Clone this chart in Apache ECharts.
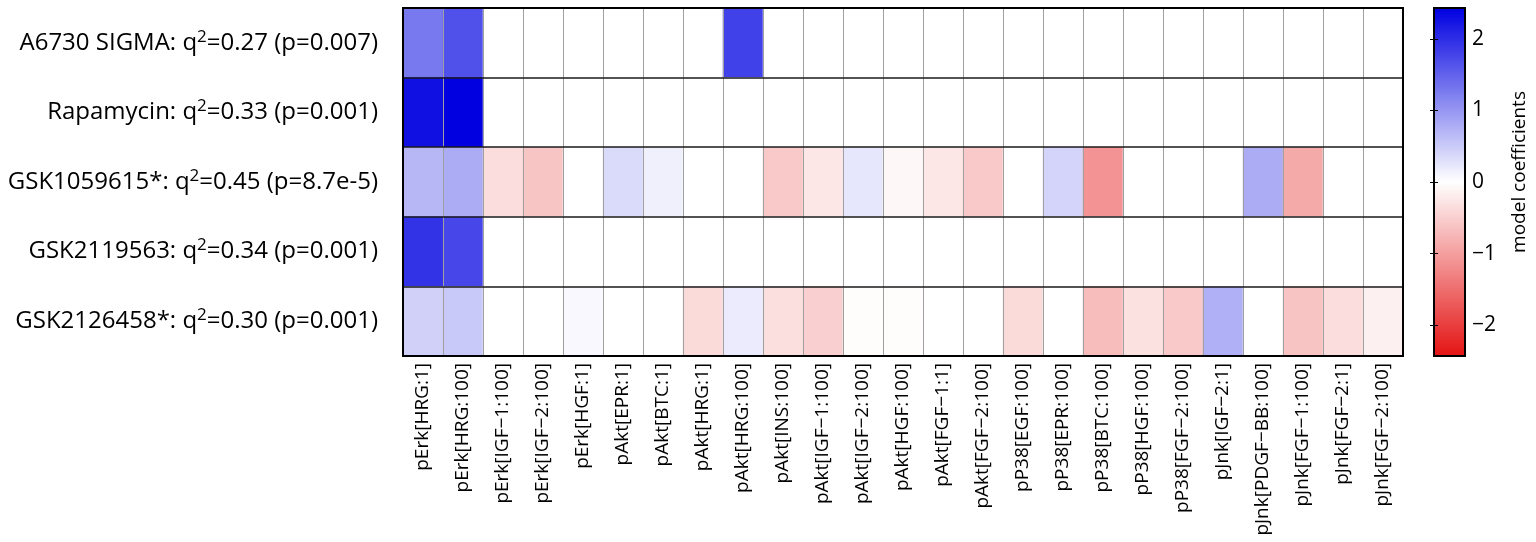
<!DOCTYPE html>
<html>
<head>
<meta charset="utf-8">
<script src="https://cdn.jsdelivr.net/npm/echarts@6/dist/echarts.min.js"></script>
<style>
html,body{margin:0;padding:0;background:#fff;}
#chart{width:1536px;height:542px;}
</style>
</head>
<body>
<div id="chart"></div>
<script>
const drugs = ['A6730 SIGMA', 'Rapamycin', 'GSK1059615*', 'GSK2119563', 'GSK2126458*'];
const q2 = ['0.27', '0.33', '0.45', '0.34', '0.30'];
const pvals = ['0.007', '0.001', '8.7e-5', '0.001', '0.001'];
const features = ['pErk[HRG:1]', 'pErk[HRG:100]', 'pErk[IGF\u22121:100]', 'pErk[IGF\u22122:100]', 'pErk[HGF:1]',
  'pAkt[EPR:1]', 'pAkt[BTC:1]', 'pAkt[HRG:1]', 'pAkt[HRG:100]', 'pAkt[INS:100]', 'pAkt[IGF\u22121:100]',
  'pAkt[IGF\u22122:100]', 'pAkt[HGF:100]', 'pAkt[FGF\u22121:1]', 'pAkt[FGF\u22122:100]', 'pP38[EGF:100]',
  'pP38[EPR:100]', 'pP38[BTC:100]', 'pP38[HGF:100]', 'pP38[FGF\u22122:100]', 'pJnk[IGF\u22122:1]',
  'pJnk[PDGF\u2212BB:100]', 'pJnk[FGF\u22121:100]', 'pJnk[FGF\u22122:1]', 'pJnk[FGF\u22122:100]'];
const coefA6730 =      [1.29, 1.67, 0, 0, 0, 0, 0, 0, 1.81, 0, 0, 0, 0, 0, 0, 0, 0, 0, 0, 0, 0, 0, 0, 0, 0];
const coefRapamycin =  [2.28, 2.43, 0, 0, 0, 0, 0, 0, 0, 0, 0, 0, 0, 0, 0, 0, 0, 0, 0, 0, 0, 0, 0, 0, 0];
const coefGSK1059615 = [0.69, 0.79, -0.35, -0.60, 0, 0.35, 0.14, 0, 0, -0.56, -0.26, 0.24, -0.08, -0.26, -0.56, 0, 0.41, -1.12, 0, 0, 0, 0.79, -0.88, 0, 0];
const coefGSK2119563 = [1.95, 1.76, 0, 0, 0, 0, 0, 0, 0, 0, 0, 0, 0, 0, 0, 0, 0, 0, 0, 0, 0, 0, 0, 0, 0];
const coefGSK2126458 = [0.45, 0.52, 0, 0, 0.07, 0, 0, -0.38, 0.19, -0.33, -0.50, -0.03, -0.03, 0, 0, -0.38, 0, -0.69, -0.31, -0.57, 0.75, 0, -0.62, -0.35, -0.16];
const colorTicks = [-2, -1, 0, 1, 2];
const cmin = -2.43, cmax = 2.43;

const rows = [coefA6730, coefRapamycin, coefGSK1059615, coefGSK2119563, coefGSK2126458];
const rowLabels = drugs.map((d, i) => d + ': q{s|2}=' + q2[i] + ' (p=' + pvals[i] + ')');
const data = [];
rows.forEach((r, yi) => r.forEach((v, xi) => data.push([xi, yi, v])));

const FONT = '"Open Sans", "Noto Sans", sans-serif';
const chart = echarts.init(document.getElementById('chart'), null, {renderer: 'canvas'});
chart.setOption({
  animation: false,
  backgroundColor: '#fff',
  textStyle: {fontFamily: FONT},
  grid: [
    {left: 403, top: 8, width: 1000, height: 348, show: true, borderColor: '#000', borderWidth: 2, backgroundColor: 'transparent', z: 10},
    {left: 1434, top: 8, width: 31, height: 348, show: true, borderColor: '#000', borderWidth: 2, backgroundColor: 'transparent', z: 10}
  ],
  xAxis: [
    {type: 'category', gridIndex: 0, data: features, z: 5,
     axisLine: {show: false}, axisTick: {show: false},
     splitLine: {show: true, interval: 0, lineStyle: {color: '#a0a0a0', width: 1}},
     axisLabel: {rotate: 90, interval: 0, margin: 7, fontSize: 19, color: '#000', fontFamily: FONT}},
    {type: 'value', gridIndex: 1, min: 0, max: 1, show: false}
  ],
  yAxis: [
    {type: 'category', gridIndex: 0, data: rowLabels, inverse: true, z: 6,
     axisLine: {show: false}, axisTick: {show: false},
     splitLine: {show: true, interval: 0, lineStyle: {color: '#1a1a1a', width: 1.6}},
     axisLabel: {interval: 0, margin: 25, fontSize: 24, color: '#000', fontFamily: FONT,
       rich: {s: {fontSize: 17, padding: [0, 0, 12, 0], color: '#000', fontFamily: FONT}}}},
    {type: 'value', gridIndex: 1, min: cmin, max: cmax, position: 'right', z: 11,
     axisLine: {show: false},
     axisTick: {show: true, inside: true, length: 4, customValues: colorTicks, lineStyle: {color: '#000'}},
     splitLine: {show: false},
     axisLabel: {margin: 7, fontSize: 21, color: '#000', fontFamily: FONT, customValues: colorTicks,
       formatter: v => String(v).replace('-', '\u2212')},
     name: 'model coefficients', nameLocation: 'middle', nameRotate: 90, nameGap: 45,
     nameTextStyle: {fontSize: 19, color: '#000', fontFamily: FONT, padding: [0, 0, 0, 20]}},
    {type: 'value', gridIndex: 1, min: cmin, max: cmax, position: 'left', z: 11,
     axisLine: {show: false},
     axisTick: {show: true, inside: true, length: 4, customValues: colorTicks, lineStyle: {color: '#000'}},
     axisLabel: {show: false}, splitLine: {show: false}}
  ],
  visualMap: {
    type: 'continuous', min: cmin, max: cmax, seriesIndex: 0, calculable: false,
    left: 1434, top: 8, itemWidth: 31, itemHeight: 348, padding: 0,
    text: null, showLabel: false, hoverLink: false,
    inRange: {color: ['#e41414', '#ffffff', '#0000e1']}
  },
  series: [{
    type: 'heatmap', xAxisIndex: 0, yAxisIndex: 0, data: data,
    itemStyle: {borderWidth: 0},
    emphasis: {disabled: true}
  }]
});
</script>
</body>
</html>
